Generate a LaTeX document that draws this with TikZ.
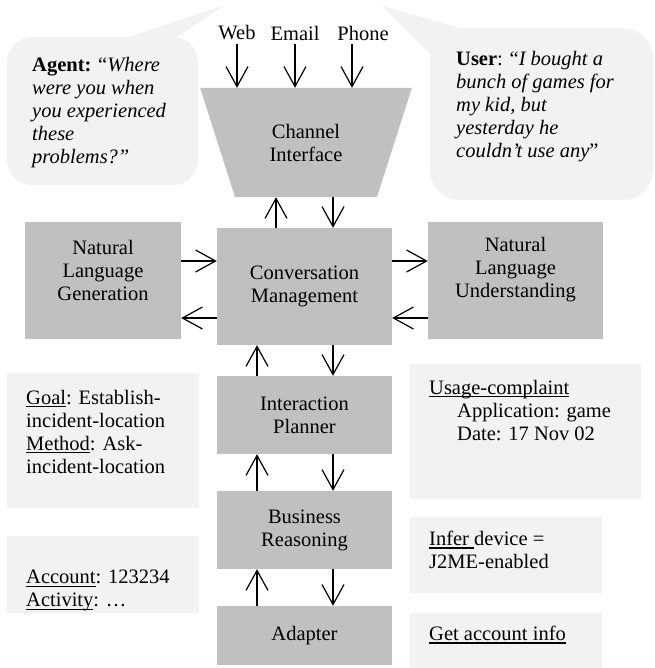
\documentclass[tikz,border=0pt]{standalone}
\usepackage{fontspec}
\setmainfont{Liberation Serif}
\usetikzlibrary{arrows.meta,shapes.geometric}
\definecolor{boxgray}{HTML}{C0C0C0}
\definecolor{notegray}{HTML}{F2F2F2}
\newcommand{\undl}[1]{\setbox0\hbox{#1}\rlap{\rule[-3pt]{\wd0}{1.2pt}}\box0}

\begin{document}
\begin{tikzpicture}[x=1pt,y=-1pt,font=\fontsize{20.5}{23}\selectfont,
	arr/.style={-{Straight Barb[length=20pt,width=22pt]},line width=1.2pt},
	module/.style={fill=boxgray,align=center,inner sep=0pt,minimum width=175pt},
	note/.style={fill=notegray,inner sep=0pt,anchor=north west},
	txt/.style={align=left,inner sep=0pt,anchor=north west}]
	\useasboundingbox (0,0) rectangle (654,668);
	
	% speech bubbles
	\fill[notegray,rounded corners=25pt] (7,37) rectangle (198,185);
	\fill[notegray] (120,40) -- (225,5) -- (172,40) -- cycle;
	\fill[notegray,rounded corners=30pt] (430,28) rectangle (653,200);
	\fill[notegray] (432,56) -- (382,6) -- (468,30) -- cycle;
	\node[txt] (agent) at (32,57) {\textbf{Agent:} “\textit{Where}\\\textit{were you when}\\\textit{you experienced}\\\textit{these}\\\textit{problems?”}};
	\node[txt] (user) at (456,51) {\textbf{User}: “\textit{I bought a}\\\textit{bunch of games for}\\\textit{my kid, but}\\\textit{yesterday he}\\\textit{couldn’t use any}”};
	
	% channels
	\node[module,trapezium,trapezium left angle=64.5,trapezium right angle=64.5,shape border rotate=180,
	trapezium stretches=true,minimum width=212pt,minimum height=109pt] (ch) at (306,142.5) {Channel\\Interface};
	\node (web) at (237,33) {Web};
	\node (email) at (295,33) {Email};
	\node (phone) at (363,33) {Phone};
	\foreach \n/\x in {web/237,email/295,phone/352}
	\draw[arr] (\x,0 |- \n.south) -- (\x,0 |- ch.north);
	
	% modules
	\node[module,minimum width=156pt,minimum height=117pt] (nlg) at (103,280.5) {};
	\node[align=center,inner sep=0pt] at ([yshift=10.5]nlg.center) {Natural\\Language\\Generation};
	\node[module,minimum height=117pt] (cm) at (304.5,286.5) {Conversation\\Management};
	\node[module,minimum height=117pt] (nlu) at (515.5,280.5) {};
	\node[align=center,inner sep=0pt] at ([yshift=10.5]nlu.center) {Natural\\Language\\Understanding};
	\node[module,minimum height=78pt] (ip) at (304.5,415) {Interaction\\Planner};
	\node[module,minimum height=78pt] (br) at (304.5,530) {Business\\Reasoning};
	\node[module,minimum height=59pt] (ad) at (304.5,635.5) {Adapter};
	
	\draw[arr] (nlg.east |- 0,261) -- (cm.west |- 0,261);
	\draw[arr] (cm.west |- 0,318) -- (nlg.east |- 0,318);
	\draw[arr] (cm.east |- 0,261) -- (nlu.west |- 0,261);
	\draw[arr] (nlu.west |- 0,318) -- (cm.east |- 0,318);
	\draw[arr] (276,0 |- cm.north) -- (276,0 |- ch.south);
	\draw[arr] (333,0 |- ch.south) -- (333,0 |- cm.north);
	\foreach \a/\b in {cm/ip,ip/br,br/ad}{
		\draw[arr] (257,0 |- \b.north) -- (257,0 |- \a.south);
		\draw[arr] (333,0 |- \a.south) -- (333,0 |- \b.north);
	}
	
	% notes
	\node[note,minimum width=192pt,minimum height=135pt] (goalbox) at (7,373) {};
	\node[txt] (goal) at (26,390) {\undl{Goal}: Establish-\\incident-location\\\undl{Method}: Ask-\\incident-location};
	\node[note,minimum width=192pt,minimum height=77pt] (acctbox) at (7,536) {};
	\node[txt] (acct) at (26,570) {\undl{Account}: 123234\\\undl{Activity}: …};
	\node[note,minimum width=231pt,minimum height=135pt] (usagebox) at (410,364) {};
	\node[txt] (usage) at (429,380) {\undl{Usage-complaint}\\\hspace*{28pt}Application: game\\\hspace*{28pt}Date: 17 Nov 02};
	\node[note,minimum width=192pt,minimum height=76pt] (inferbox) at (410,517) {};
	\node[txt] (infer) at (429,531) {\undl{Infer\ }device =\\J2ME-enabled};
	\node[note,minimum width=192pt,minimum height=55pt] (getbox) at (410,613) {};
	\node[txt] (get) at (429,626) {\undl{Get account info}};
\end{tikzpicture}
\end{document}
